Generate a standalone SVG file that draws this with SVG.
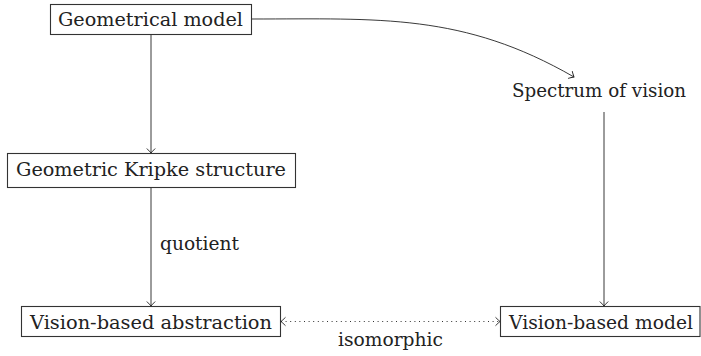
<svg xmlns="http://www.w3.org/2000/svg" width="701" height="356" viewBox="0 0 701 356">
<style>
.box{fill:none;stroke:#333;stroke-width:1.1}
.t{font-family:"DejaVu Serif",serif;font-size:19px;fill:#222}
.e{fill:none;stroke:#222;stroke-width:0.9}
.d{fill:none;stroke:#333;stroke-width:1;stroke-dasharray:1 3.6}
</style>
<defs>
<marker id="ah" viewBox="-6 -6 8 12" refX="0" refY="0" markerWidth="8" markerHeight="12" markerUnits="userSpaceOnUse" orient="auto-start-reverse">
<path d="M-4.5,-4.2 Q-1.5,-1.2 0,0 Q-1.5,1.2 -4.5,4.2" fill="none" stroke="#222" stroke-width="0.9"/>
</marker>
</defs>
<rect width="701" height="356" fill="#fff"/>
<g id="edges">
<line class="e" x1="151" y1="34.5" x2="151" y2="153" marker-end="url(#ah)"/>
<line class="e" x1="151" y1="187.5" x2="151" y2="306" marker-end="url(#ah)"/>
<line class="e" x1="604" y1="112" x2="604" y2="306" marker-end="url(#ah)"/>
<path class="e" d="M252,19 C380,19 463,13 574,77" marker-end="url(#ah)"/>
<line class="d" x1="281" y1="321.5" x2="500" y2="321.5" marker-start="url(#ah)" marker-end="url(#ah)"/>
<text class="t" x="160" y="250" textLength="79" lengthAdjust="spacingAndGlyphs">quotient</text>
<text class="t" x="338" y="346" textLength="105" lengthAdjust="spacingAndGlyphs">isomorphic</text>
</g>
<g id="geometrical-model">
<rect class="box" x="50.5" y="4.5" width="201" height="30"/>
<text class="t" x="58" y="26" textLength="185" lengthAdjust="spacingAndGlyphs">Geometrical model</text>
</g>
<g id="spectrum-of-vision">
<text class="t" x="512" y="97" textLength="174" lengthAdjust="spacingAndGlyphs">Spectrum of vision</text>
</g>
<g id="kripke">
<rect class="box" x="7.5" y="153.5" width="288" height="34"/>
<text class="t" x="16" y="176" textLength="270" lengthAdjust="spacingAndGlyphs">Geometric Kripke structure</text>
</g>
<g id="vision-abstraction">
<rect class="box" x="21.5" y="306.5" width="259" height="30"/>
<text class="t" x="30" y="329" textLength="242" lengthAdjust="spacingAndGlyphs">Vision-based abstraction</text>
</g>
<g id="vision-model">
<rect class="box" x="500.5" y="306.5" width="199.5" height="30"/>
<text class="t" x="509" y="329" textLength="184" lengthAdjust="spacingAndGlyphs">Vision-based model</text>
</g>
</svg>
